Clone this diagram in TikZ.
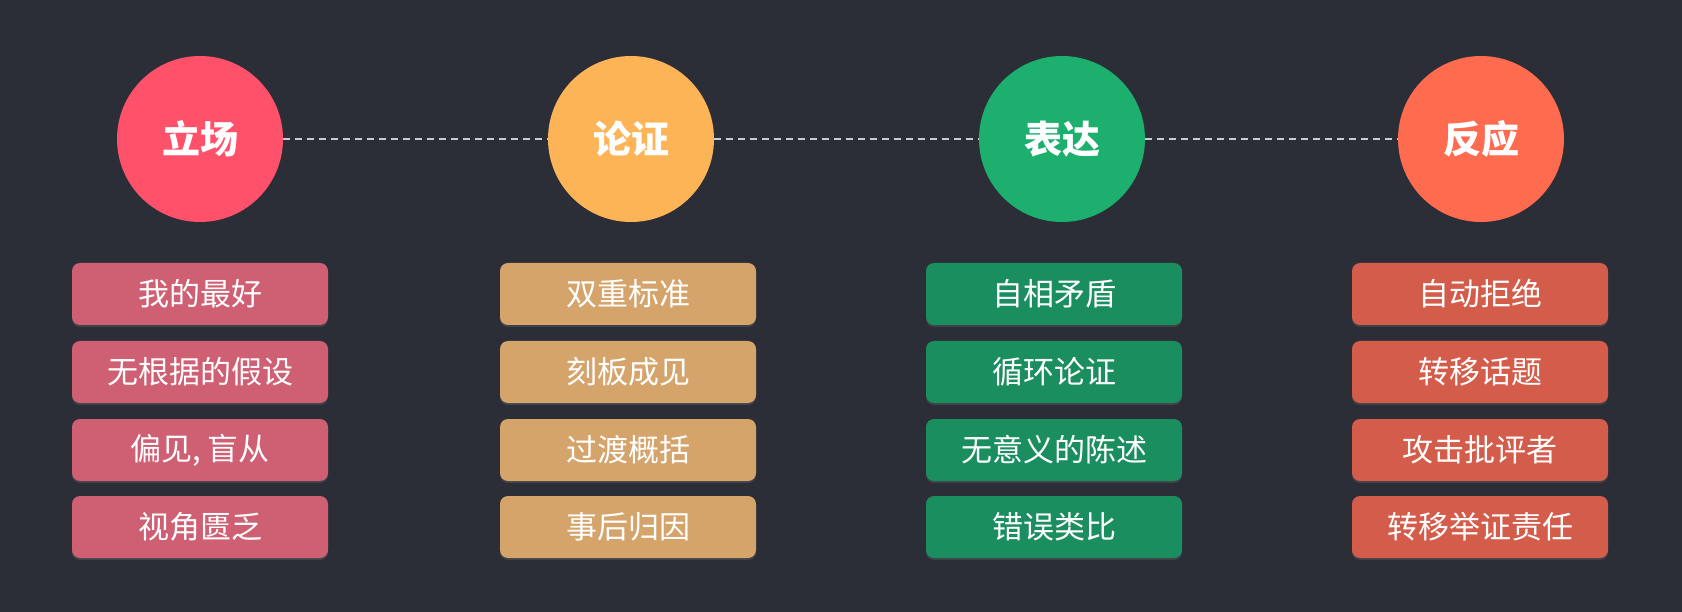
\documentclass[tikz,border=0pt]{standalone}
\usepackage{fontspec}
\usepackage{tikz}
\usetikzlibrary{shadows}
\newfontfamily\cjk{Noto Sans CJK SC}

\definecolor{bgdark}{HTML}{2B2E37}
\definecolor{dashgray}{HTML}{C9CCD3}
\definecolor{stanceC}{HTML}{FF5169}
\definecolor{stanceB}{HTML}{CF5F73}
\definecolor{argueC}{HTML}{FDB457}
\definecolor{argueB}{HTML}{D5A46B}
\definecolor{expressC}{HTML}{1DAF6E}
\definecolor{expressB}{HTML}{1B8E5F}
\definecolor{reactC}{HTML}{FF6B4F}
\definecolor{reactB}{HTML}{D35C4A}

\tikzset{
    stage/.style={circle, minimum size=166pt, inner sep=0pt, text=white,
        font=\cjk\bfseries\fontsize{38pt}{40pt}\selectfont},
    fallacy/.style={rectangle, rounded corners=8pt, minimum width=256pt,
        minimum height=62pt, inner sep=0pt, text=white,
        drop shadow={opacity=0.25, shadow xshift=0pt, shadow yshift=-2pt},
        font=\cjk\fontsize{31pt}{33pt}\selectfont},
    link/.style={dashgray, line width=1.8pt, dash pattern=on 7pt off 5pt}
}

\begin{document}
\begin{tikzpicture}[x=1pt, y=-1pt]
    \fill[bgdark] (0, 0) rectangle (1682, 612);
    \useasboundingbox (0, 0) rectangle (1682, 612);

    % stages
    \node[stage, fill=stanceC] (stance) at (200, 139) {立场};
    \node[stage, fill=argueC] (argue) at (631, 139) {论证};
    \node[stage, fill=expressC] (express) at (1062, 139) {表达};
    \node[stage, fill=reactC] (react) at (1481, 139) {反应};
    \draw[link] (stance) -- (argue);
    \draw[link] (argue) -- (express);
    \draw[link] (express) -- (react);

    % stance column
    \node[fallacy, fill=stanceB] (stance1) at (200, 294) {我的最好};
    \node[fallacy, fill=stanceB] (stance2) at (200, 372) {无根据的假设};
    \node[fallacy, fill=stanceB] (stance3) at (200, 450) {偏见, 盲从};
    \node[fallacy, fill=stanceB] (stance4) at (200, 527) {视角匮乏};

    % argument column
    \node[fallacy, fill=argueB] (argue1) at (628, 294) {双重标准};
    \node[fallacy, fill=argueB] (argue2) at (628, 372) {刻板成见};
    \node[fallacy, fill=argueB] (argue3) at (628, 450) {过渡概括};
    \node[fallacy, fill=argueB] (argue4) at (628, 527) {事后归因};

    % expression column
    \node[fallacy, fill=expressB] (express1) at (1054, 294) {自相矛盾};
    \node[fallacy, fill=expressB] (express2) at (1054, 372) {循环论证};
    \node[fallacy, fill=expressB] (express3) at (1054, 450) {无意义的陈述};
    \node[fallacy, fill=expressB] (express4) at (1054, 527) {错误类比};

    % reaction column
    \node[fallacy, fill=reactB] (react1) at (1480, 294) {自动拒绝};
    \node[fallacy, fill=reactB] (react2) at (1480, 372) {转移话题};
    \node[fallacy, fill=reactB] (react3) at (1480, 450) {攻击批评者};
    \node[fallacy, fill=reactB] (react4) at (1480, 527) {转移举证责任};
\end{tikzpicture}
\end{document}
